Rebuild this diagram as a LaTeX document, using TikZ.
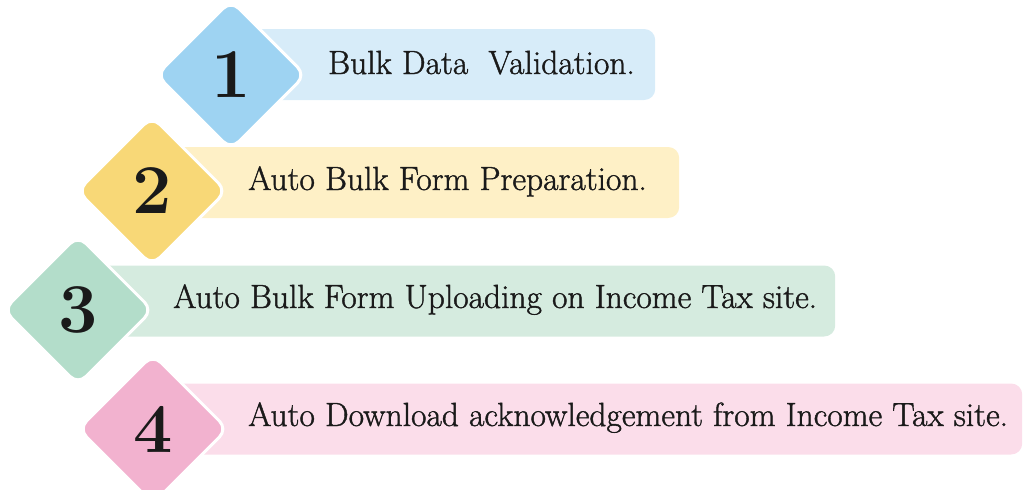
\documentclass[tikz,border=0pt]{standalone}
\usepackage{fontspec}
\usetikzlibrary{shapes.geometric}
\newfontfamily\lblfont[FakeBold=1.2]{Latin Modern Roman}
\definecolor{dBlue}{HTML}{9ED3F2}
\definecolor{bBlue}{HTML}{D7ECF9}
\definecolor{dYellow}{HTML}{F8D877}
\definecolor{bYellow}{HTML}{FEF0C6}
\definecolor{dGreen}{HTML}{B3DDCA}
\definecolor{bGreen}{HTML}{D5EBDF}
\definecolor{dPink}{HTML}{F2B2CF}
\definecolor{bPink}{HTML}{FBDDEA}
\definecolor{ink}{HTML}{1A1A1A}
\tikzset{
  bar/.style={rectangle, rounded corners=11pt, minimum height=71pt, anchor=west, inner sep=0pt, draw=none},
  dia/.style={diamond, aspect=1, minimum width=150pt, minimum height=150pt, inner sep=0pt,
              rounded corners=11pt, draw=white, line width=3pt, text=ink,
              font=\fontsize{70}{70}\selectfont\bfseries},
  lbl/.style={anchor=base west, inner sep=0pt, text=ink, font=\fontsize{33.5}{36}\lblfont}
}
\begin{document}
\begin{tikzpicture}[x=1pt,y=-1pt]
\useasboundingbox (0,0) rectangle (1034,490);
% bars
\node[bar, fill=bBlue,   minimum width=424pt] (b1) at (231,64.5) {};
\node[bar, fill=bYellow, minimum width=527pt] (b2) at (152,182.5) {};
\node[bar, fill=bGreen,  minimum width=757pt] (b3) at (78,301) {};
\node[bar, fill=bPink,   minimum width=869pt] (b4) at (153,419) {};
% diamonds
\node[dia, fill=dBlue]   (d1) at (231,75)  {1};
\node[dia, fill=dYellow] (d2) at (152,191) {2};
\node[dia, fill=dGreen]  (d3) at (78,310)  {3};
\node[dia, fill=dPink]   (d4) at (153,429) {4};
% labels
\node[lbl] (t1) at (328,74)  {Bulk Data \ Validation.};
\node[lbl] (t2) at (248,190) {Auto Bulk Form Preparation.};
\node[lbl] (t3) at (173,308) {Auto Bulk Form Uploading on Income Tax site.};
\node[lbl] (t4) at (248,426) {Auto Download acknowledgement from Income Tax site.};
\end{tikzpicture}
\end{document}
